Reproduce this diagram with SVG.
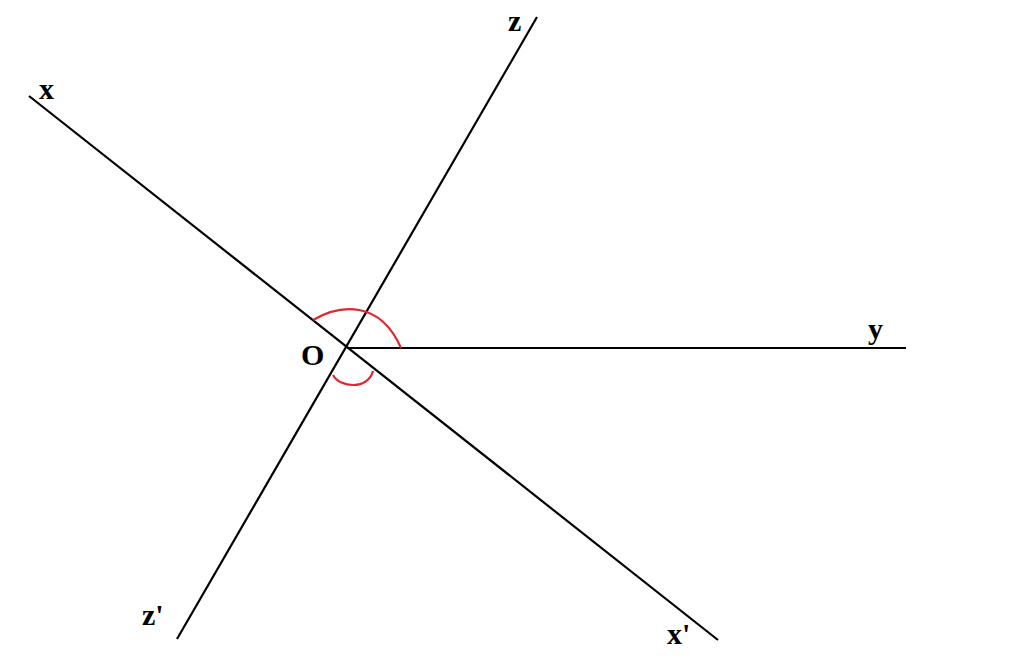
<svg xmlns="http://www.w3.org/2000/svg" width="1024" height="667" viewBox="0 0 1024 667">
<style>
.ln{stroke:#000;stroke-width:2.2;fill:none}
.arc{stroke:#e0262e;stroke-width:2.2;fill:none}
.lb{font-family:"Liberation Serif",serif;font-weight:bold;font-size:30px;fill:#000}
</style>
<rect width="1024" height="667" fill="#fff"/>
<g id="connectors">
<line class="ln" x1="29" y1="96" x2="718" y2="640"/>
<line class="ln" x1="537" y1="17" x2="177" y2="639"/>
<line class="ln" x1="347" y1="348" x2="906" y2="348"/>
<path class="arc" d="M313,320 C340,304 380,300 401,348"/>
<path class="arc" d="M333,375 C340,388 368,390 373,371"/>
</g>
<g id="labels">
<text class="lb" x="39" y="99">x</text>
<text class="lb" x="508" y="31">z</text>
<text class="lb" x="868" y="339">y</text>
<text class="lb" x="301" y="365">O</text>
<text class="lb" x="142" y="625">z'</text>
<text class="lb" x="667" y="644">x'</text>
</g>
</svg>
